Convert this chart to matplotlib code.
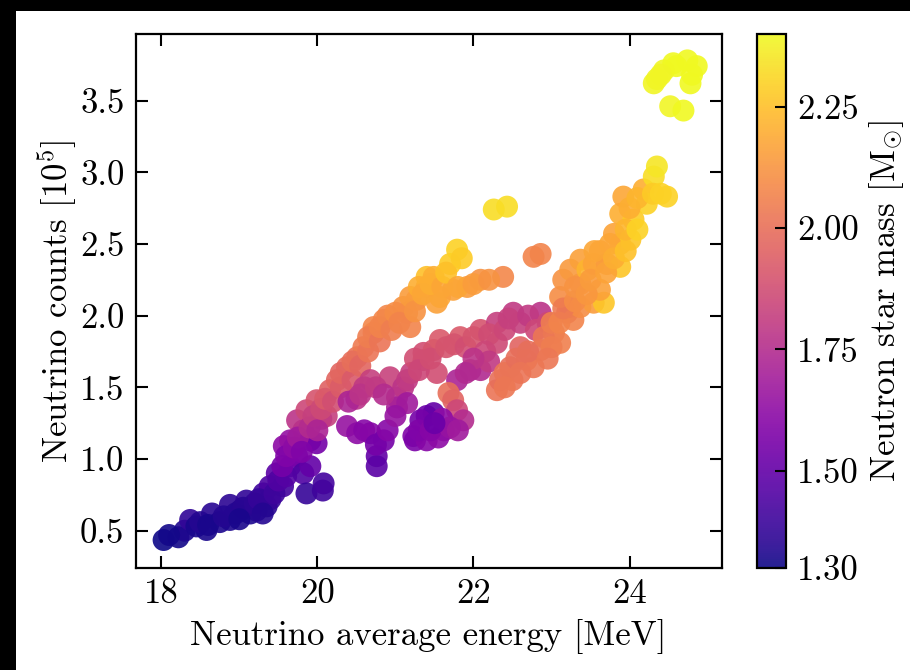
import matplotlib
matplotlib.use("Agg")
import matplotlib.pyplot as plt
from matplotlib.patches import Rectangle

plt.rcParams['font.family'] = 'serif'
plt.rcParams['font.serif'] = ['cmr10']
plt.rcParams['mathtext.fontset'] = 'cm'
plt.rcParams['axes.formatter.use_mathtext'] = True
plt.rcParams['axes.unicode_minus'] = False

# Neutrino average energy [MeV]
energy = [
    # lower-left track
    18.03, 18.22, 18.30, 18.37, 18.45, 18.58, 18.65, 18.75, 18.88, 18.88,
    19.01, 19.09, 19.14, 19.22, 19.31, 19.35, 19.39, 19.48, 19.56, 19.65,
    18.10, 18.50, 18.60, 18.80, 18.95, 19.05, 19.20, 19.25, 19.40, 19.45,
    19.50, 19.60, 19.30, 19.00,
    # upper steep band
    19.57, 19.65, 19.74, 19.82, 19.86, 19.91, 20.07, 20.08, 19.82, 19.91,
    19.99, 19.74, 19.86, 19.99, 20.12, 20.05, 20.16, 20.25, 20.38, 20.51,
    20.59, 20.72, 20.85, 20.72, 21.10, 21.15, 21.19, 21.19, 21.27, 21.40,
    21.40, 21.49, 21.70, 21.79, 21.53, 21.57, 21.74, 21.92, 22.09, 22.38,
    19.55, 19.60, 19.70, 19.75, 19.80, 19.90, 19.95, 20.00, 20.05, 20.10,
    20.20, 20.30, 20.30, 20.45, 20.45, 20.55, 20.65, 20.65, 20.80, 20.80,
    20.90, 20.95, 21.00, 21.05, 21.25, 21.30, 21.35, 21.45, 21.60, 21.65,
    21.80, 22.00, 22.20, 21.85,
    # isolated points
    22.26, 22.43, 22.77, 22.86,
    # middle band
    20.38, 20.51, 20.68, 20.68, 20.60, 20.50, 20.93, 21.02, 21.10, 21.02,
    21.15, 21.15, 21.36, 21.36, 21.49, 21.57, 21.53, 21.83, 22.09, 22.30,
    22.51, 22.86, 22.30, 21.96, 22.09, 21.79, 21.68, 21.74, 21.79,
    20.40, 20.55, 20.75, 20.85, 21.20, 21.25, 21.30, 21.45, 21.65, 21.75,
    21.90, 22.00, 22.20, 22.40, 22.45, 22.60, 22.70, 22.80, 22.95, 22.15,
    22.20, 22.00, 21.90,
    # lower purple cluster
    20.76, 20.76, 20.85, 21.23, 21.25, 21.40, 21.49, 21.32, 21.40, 21.62,
    21.87, 21.55, 20.60, 20.75, 20.90, 21.00, 21.30, 21.45, 21.60, 21.70,
    21.80, 21.50,
    # right steep band
    22.30, 22.34, 22.47, 22.60, 22.68, 22.77, 22.86, 23.03, 23.11, 23.20,
    23.24, 23.28, 23.37, 23.54, 23.67, 23.11, 23.15, 23.24, 23.37, 23.37,
    23.46, 23.54, 23.62, 23.62, 23.71, 23.80, 23.88, 23.88, 23.88, 24.01,
    24.05, 23.92, 24.18, 24.22, 24.48, 24.31, 24.35,
    22.40, 22.55, 22.70, 22.90, 23.00, 23.10, 23.15, 23.30, 23.30, 23.45,
    23.50, 23.55, 23.70, 23.75, 23.80, 23.95, 23.95, 24.00, 24.10, 24.30,
    24.40, 24.10, 23.00, 22.95, 22.60, 22.50, 22.40,
    # top yellow group
    24.31, 24.44, 24.56, 24.74, 24.86, 24.78, 24.52, 24.69, 24.60, 24.40,
    24.80, 24.35,
]

# Neutrino counts [1e5]
counts = [
    0.435, 0.454, 0.50, 0.575, 0.53, 0.505, 0.62, 0.56, 0.575, 0.68,
    0.64, 0.71, 0.62, 0.64, 0.76, 0.67, 0.81, 0.90, 0.81, 0.95,
    0.47, 0.56, 0.54, 0.60, 0.62, 0.66, 0.69, 0.72, 0.72, 0.76,
    0.85, 0.88, 0.62, 0.58,
    1.09, 1.13, 1.02, 0.90, 0.76, 0.95, 0.78, 0.83, 1.20, 1.13,
    1.11, 1.27, 1.34, 1.41, 1.30, 1.28, 1.48, 1.55, 1.64, 1.71,
    1.78, 1.88, 1.97, 1.92, 2.06, 2.02, 1.92, 2.13, 2.11, 2.20,
    2.27, 2.27, 2.36, 2.46, 2.09, 2.13, 2.18, 2.20, 2.25, 2.27,
    0.95, 1.02, 1.08, 1.15, 1.05, 1.22, 1.30, 1.20, 1.35, 1.42,
    1.40, 1.50, 1.60, 1.55, 1.68, 1.65, 1.75, 1.85, 1.82, 1.92,
    2.00, 1.90, 2.02, 1.95, 2.03, 2.20, 2.15, 2.22, 2.20, 2.30,
    2.20, 2.22, 2.25, 2.40,
    2.74, 2.76, 2.41, 2.43,
    1.23, 1.18, 1.18, 1.55, 1.50, 1.42, 1.57, 1.43, 1.50, 1.36,
    1.55, 1.39, 1.69, 1.74, 1.76, 1.83, 1.60, 1.85, 1.90, 1.95,
    2.02, 2.02, 1.81, 1.62, 1.62, 1.55, 1.46, 1.41, 1.34,
    1.40, 1.45, 1.50, 1.45, 1.60, 1.70, 1.62, 1.70, 1.78, 1.80,
    1.78, 1.85, 1.87, 1.90, 1.98, 1.95, 2.00, 1.90, 1.95, 1.75,
    1.68, 1.70, 1.60,
    1.02, 0.95, 1.13, 1.16, 1.13, 1.30, 1.32, 1.27, 1.13, 1.20,
    1.27, 1.15, 1.20, 1.10, 1.20, 1.30, 1.20, 1.20, 1.28, 1.22,
    1.20, 1.25,
    1.48, 1.55, 1.64, 1.78, 1.69, 1.64, 1.76, 1.88, 1.81, 2.02,
    2.06, 1.97, 2.06, 2.09, 2.09, 2.13, 2.25, 2.32, 2.22, 2.39,
    2.32, 2.36, 2.18, 2.45, 2.36, 2.57, 2.34, 2.50, 2.71, 2.53,
    2.67, 2.83, 2.88, 2.78, 2.83, 2.97, 3.04,
    1.60, 1.70, 1.75, 1.85, 1.95, 1.95, 2.05, 2.10, 2.20, 2.15,
    2.25, 2.45, 2.30, 2.50, 2.40, 2.45, 2.60, 2.75, 2.82, 2.85,
    2.85, 2.60, 1.78, 1.70, 1.60, 1.55, 1.50,
    3.62, 3.71, 3.76, 3.78, 3.74, 3.62, 3.46, 3.43, 3.74, 3.68,
    3.68, 3.65,
]

# Neutron star mass [Msun]
mass = [
    1.30, 1.31, 1.33, 1.37, 1.32, 1.32, 1.35, 1.33, 1.33, 1.36,
    1.34, 1.37, 1.33, 1.34, 1.40, 1.35, 1.44, 1.48, 1.42, 1.50,
    1.31, 1.34, 1.32, 1.34, 1.34, 1.35, 1.36, 1.38, 1.38, 1.40,
    1.45, 1.46, 1.34, 1.32,
    1.62, 1.64, 1.56, 1.45, 1.38, 1.50, 1.40, 1.42, 1.70, 1.55,
    1.55, 1.78, 1.85, 1.90, 1.82, 1.80, 1.95, 1.97, 1.99, 2.02,
    2.04, 2.07, 2.08, 2.08, 2.12, 2.10, 2.07, 2.15, 2.15, 2.18,
    2.25, 2.20, 2.28, 2.30, 2.16, 2.18, 2.16, 2.15, 2.12, 2.08,
    1.55, 1.58, 1.62, 1.68, 1.58, 1.75, 1.82, 1.72, 1.86, 1.92,
    1.88, 1.93, 1.97, 1.92, 2.00, 1.97, 2.02, 2.05, 2.02, 2.07,
    2.08, 2.05, 2.10, 2.07, 2.12, 2.20, 2.18, 2.20, 2.18, 2.25,
    2.18, 2.15, 2.12, 2.28,
    2.33, 2.33, 2.07, 2.07,
    1.65, 1.62, 1.60, 1.82, 1.80, 1.78, 1.83, 1.76, 1.78, 1.70,
    1.80, 1.68, 1.88, 1.88, 1.90, 1.92, 1.88, 1.92, 1.90, 1.82,
    1.80, 1.78, 1.86, 1.72, 1.74, 1.72, 2.00, 1.96, 1.85,
    1.72, 1.78, 1.80, 1.75, 1.82, 1.88, 1.85, 1.88, 1.90, 1.90,
    1.88, 1.90, 1.87, 1.85, 1.82, 1.82, 1.80, 1.85, 1.85, 1.85,
    1.80, 1.78, 1.74,
    1.50, 1.48, 1.55, 1.58, 1.57, 1.52, 1.50, 1.55, 1.60, 1.65,
    1.75, 1.62, 1.60, 1.55, 1.60, 1.65, 1.58, 1.60, 1.62, 1.65,
    1.68, 1.52,
    2.02, 2.00, 2.00, 1.96, 2.02, 2.03, 2.02, 2.04, 2.06, 1.92,
    1.88, 2.07, 2.10, 2.15, 2.27, 2.10, 2.12, 2.14, 2.14, 2.16,
    2.22, 2.17, 2.16, 2.17, 2.15, 2.17, 2.27, 2.19, 2.20, 2.27,
    2.28, 2.18, 2.20, 2.30, 2.30, 2.33, 2.35,
    2.02, 2.00, 2.00, 2.03, 2.05, 2.07, 2.04, 2.10, 2.12, 2.13,
    2.15, 2.18, 2.17, 2.18, 2.20, 2.25, 2.22, 2.20, 2.22, 2.28,
    2.30, 2.30, 2.05, 2.03, 2.02, 2.02, 2.03,
    2.39, 2.39, 2.40, 2.40, 2.40, 2.40, 2.39, 2.40, 2.40, 2.39,
    2.40, 2.39,
]

x_ticks = [18, 20, 22, 24]
y_ticks = [0.5, 1.0, 1.5, 2.0, 2.5, 3.0, 3.5]
cbar_ticks = [1.30, 1.50, 1.75, 2.00, 2.25]

W, H = 910, 670
FS = 25
fig = plt.figure(figsize=(W / 100, H / 100), dpi=100)
fig.patch.set_facecolor('black')
fig.patches.append(Rectangle((16 / W, 0), 1, 1 - 10.5 / H, transform=fig.transFigure,
                             facecolor='white', edgecolor='none', zorder=-10))

ax = fig.add_axes([135.5 / W, 1 - 567.7 / H, (721.7 - 135.5) / W, (567.7 - 34) / H])
cax = fig.add_axes([756.7 / W, 1 - 567.7 / H, (786 - 756.7) / W, (567.7 - 34) / H])

sc = ax.scatter(energy, counts, c=mass, cmap='plasma', vmin=1.30, vmax=2.40,
                s=250, alpha=0.9, edgecolors='none')

ax.set_xlim(17.67, 25.18)
ax.set_ylim(0.242, 3.964)
ax.set_xticks(x_ticks)
ax.set_xticklabels([f"{t:d}" for t in x_ticks])
ax.set_yticks(y_ticks)
ax.set_yticklabels([f"{t:.1f}" for t in y_ticks])
ax.tick_params(direction='in', top=True, right=True, length=8.5, width=1.5,
               labelsize=FS, pad=8)
for sp in ax.spines.values():
    sp.set_linewidth(1.6)

ax.set_xlabel('Neutrino average energy [MeV]', fontsize=FS, labelpad=6)
ax.set_ylabel(r'Neutrino counts [$10^5$]', fontsize=FS, labelpad=1)

cb = fig.colorbar(sc, cax=cax)
cb.set_ticks(cbar_ticks)
cb.set_ticklabels([f"{t:.2f}" for t in cbar_ticks])
cb.ax.tick_params(direction='in', length=8, width=1.5, labelsize=FS, pad=8)
cb.outline.set_linewidth(1.6)
cb.set_label(r'Neutron star mass [M$_{\odot}$]', fontsize=FS, labelpad=6)

fig.savefig('out.png', dpi=100, facecolor=fig.get_facecolor())
